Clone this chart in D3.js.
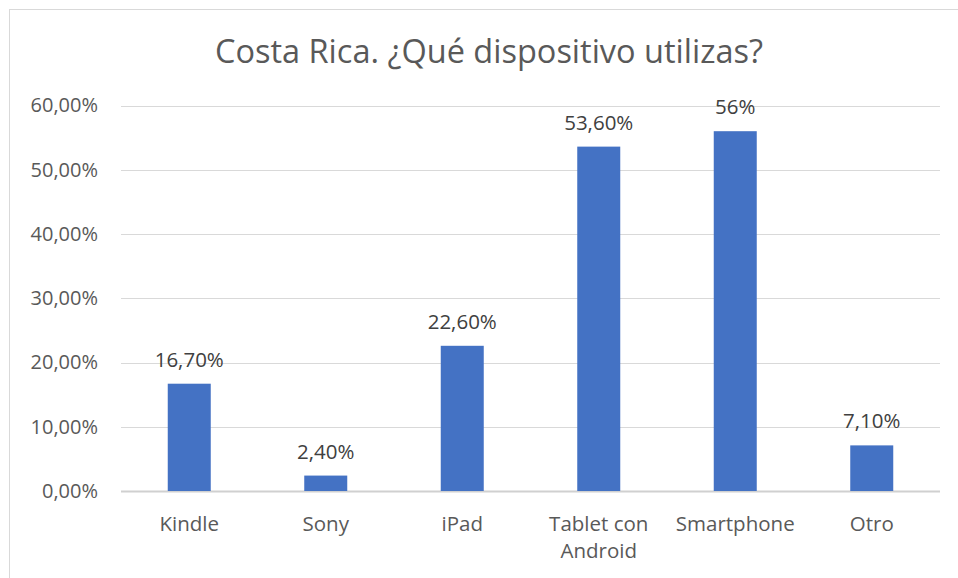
<!DOCTYPE html>
<html>
<head>
<meta charset="utf-8">
<script src="https://cdnjs.cloudflare.com/ajax/libs/d3/7.8.5/d3.min.js"></script>
<style>
  html, body { margin: 0; padding: 0; background: #fff; }
  svg { display: block; }
  text { font-family: "Open Sans", "Noto Sans", sans-serif; }
</style>
</head>
<body>
<svg id="chart" width="958" height="578"></svg>
<script>
// Device usage in Costa Rica (percent of respondents)
const categories = [["Kindle"], ["Sony"], ["iPad"], ["Tablet con", "Android"], ["Smartphone"], ["Otro"]];
const values = [16.7, 2.4, 22.6, 53.6, 56, 7.1];
const valueLabels = ["16,70%", "2,40%", "22,60%", "53,60%", "56%", "7,10%"];
const yTicks = [0, 10, 20, 30, 40, 50, 60];
const yTickLabels = ["0,00%", "10,00%", "20,00%", "30,00%", "40,00%", "50,00%", "60,00%"];
const title = "Costa Rica. ¿Qué dispositivo utilizas?";

const svg = d3.select("#chart");
const W = 958, H = 578;
const margin = { left: 121, right: 18, top: 105.5, bottom: 87 };
const labelSize = 20.5;

// chart frame
svg.append("rect")
  .attr("x", 9.5).attr("y", 9.5)
  .attr("width", W + 20).attr("height", H + 20)
  .attr("fill", "#fff").attr("stroke", "#d9d9d9").attr("stroke-width", 1);

const x = d3.scaleBand()
  .domain(d3.range(categories.length))
  .range([margin.left, W - margin.right])
  .paddingInner(0.685)
  .paddingOuter(0.3425);

const y = d3.scaleLinear()
  .domain([0, 60])
  .range([H - margin.bottom, margin.top]);

// gridlines
svg.append("g")
  .selectAll("line")
  .data(yTicks)
  .join("line")
  .attr("x1", margin.left).attr("x2", W - margin.right)
  .attr("y1", d => Math.round(y(d)) + 0.5).attr("y2", d => Math.round(y(d)) + 0.5)
  .attr("stroke", d => d === 0 ? "#d0d0d0" : "#d9d9d9")
  .attr("stroke-width", d => d === 0 ? 2 : 1);

// y axis labels
const yAxis = d3.axisLeft(y)
  .tickValues(yTicks)
  .tickFormat((d, i) => yTickLabels[i])
  .tickSize(0)
  .tickPadding(23);
const yg = svg.append("g")
  .attr("transform", `translate(${margin.left},0)`)
  .call(yAxis);
yg.select(".domain").remove();
yg.selectAll("text")
  .attr("fill", "#595959")
  .attr("font-size", 20)
  .style("font-family", "\"Open Sans\", sans-serif");

// bars
svg.append("g")
  .selectAll("rect")
  .data(values)
  .join("rect")
  .attr("x", (d, i) => x(i))
  .attr("width", x.bandwidth())
  .attr("y", d => y(d))
  .attr("height", d => y(0) - y(d))
  .attr("fill", "#4472c4");

// value labels
svg.append("g")
  .selectAll("text")
  .data(values)
  .join("text")
  .attr("x", (d, i) => x(i) + x.bandwidth() / 2)
  .attr("y", d => y(d) - 17)
  .attr("text-anchor", "middle")
  .attr("fill", "#404040")
  .attr("font-size", labelSize)
  .text((d, i) => valueLabels[i]);

// category labels
const xg = svg.append("g");
categories.forEach((lines, i) => {
  const t = xg.append("text")
    .attr("x", x(i) + x.bandwidth() / 2)
    .attr("y", 531)
    .attr("text-anchor", "middle")
    .attr("fill", "#595959")
    .attr("font-size", labelSize);
  lines.forEach((ln, j) => {
    t.append("tspan")
      .attr("x", x(i) + x.bandwidth() / 2)
      .attr("dy", j === 0 ? 0 : 27)
      .text(ln);
  });
});

// title
svg.append("text")
  .attr("x", 489)
  .attr("y", 63)
  .attr("text-anchor", "middle")
  .attr("fill", "#595959")
  .attr("font-size", 32.5)
  .text(title);
</script>
</body>
</html>
